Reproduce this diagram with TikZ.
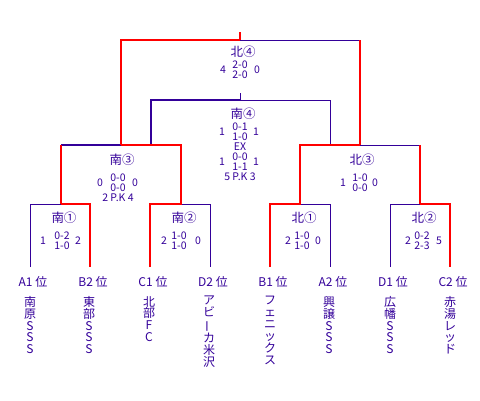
\documentclass[tikz,border=0pt]{standalone}
\usepackage{fontspec}
\newfontfamily\jpfont{Noto Sans CJK JP}
\usepackage{xcolor}
\usepackage{tikz}
\definecolor{tourney}{RGB}{51,0,153}
\newcommand\chouon{\rotatebox[origin=c]{90}{ー}}

\begin{document}
\begin{tikzpicture}
[
	x = 1pt, y = -1pt,
	win/.style	= {draw = red, line width = 2pt},
	lose/.style	= {draw = tourney, line width = 1pt},
	losebold/.style	= {lose, line width = 1.8pt},
	round/.style	= {text = tourney, inner sep = 0pt, font = \jpfont\fontsize{12.5}{12.5}\selectfont},
	score/.style	= {text = tourney, inner sep = 0pt, align = center, font = \jpfont\fontsize{10.5}{10}\selectfont},
	place/.style	= {round, font = \jpfont\fontsize{12}{12}\selectfont},
	team/.style	= {round, anchor = north, align = center, font = \jpfont\fontsize{12}{11.9}\selectfont},
]
	\useasboundingbox (0,0) rectangle (480,400);

	\coordinate (A1) at (30,267);
	\coordinate (B2) at (90,267);
	\coordinate (C1) at (150,267);
	\coordinate (D2) at (210,267);
	\coordinate (B1) at (270,267);
	\coordinate (A2) at (330,267);
	\coordinate (D1) at (390,267);
	\coordinate (C2) at (450,267);
	%
	\coordinate (S1) at (61,204);
	\coordinate (S2) at (181,204);
	\coordinate (N1) at (300,204);
	\coordinate (N2) at (420,204);
	%
	\coordinate (S3) at (121,145);
	\coordinate (N3) at (360,145);
	\coordinate (S4l) at (151,145);
	\coordinate (S4r) at (330,145);
	\coordinate (S4) at (240,100);
	\coordinate (S4top) at (240,93);
	\coordinate (N4) at (240,40);
	\coordinate (champ) at (240,32);

	% losers first
	\draw [lose] (A1) |- (S1);
	\draw [lose] (S2) -| (D2);
	\draw [lose] (N1) -| (A2);
	\draw [lose] (D1) |- (N2);
	%
	\draw [losebold] (S1 |- S3) -- (S3);
	\draw [lose] (N2 |- N3) -- (N3);
	%
	\draw [losebold] (S4l) |- (S4);
	\draw [lose] (S4) -| (S4r);
	\draw [lose] (S4) -- (S4top);
	%
	\draw [lose] (N3 |- N4) -- (N4);

	% winners
	\draw [win] (S1) -| (B2);
	\draw [win] (S1) -- (S1 |- S3);
	\draw [win] (C1) |- (S2) |- (S3);
	\draw [win] (B1) |- (N1) |- (N3);
	\draw [win] (N2) -| (C2);
	\draw [win] (N2) -- (N2 |- N3);
	%
	\draw [win] (S3) |- (N4);
	\draw [win] (N3) -- (N3 |- N4);
	\draw [win] (N4) -- (champ);

	% final
	\node (tN4) [round] at (243,52) {北④};
	\node (sN4) [score] at (240,70) {2-0\\2-0};
	\node (lN4) [score] at (223,70) {4};
	\node (rN4) [score] at (257,70) {0};
	% 3rd place
	\node (tS4) [round] at (243,114) {南④};
	\node (sS4) [score] at (240,152) {0-1\\1-0\\EX\\0-0\\1-1\\5 P.K 3};
	\node (lS4a) [score] at (222,132) {1};
	\node (rS4a) [score] at (256,132) {1};
	\node (lS4b) [score] at (222,162) {1};
	\node (rS4b) [score] at (256,162) {1};
	% semi finals
	\node (tS3) [round] at (122,160) {南③};
	\node (sS3) [score] at (118,188) {0-0\\0-0\\2 P.K 4};
	\node (lS3) [score] at (100,183) {0};
	\node (rS3) [score] at (135,183) {0};
	%
	\node (tN3) [round] at (362,160) {北③};
	\node (sN3) [score] at (360,183) {1-0\\0-0};
	\node (lN3) [score] at (343,183) {1};
	\node (rN3) [score] at (375,183) {0};
	% first round
	\node (tS1) [round] at (64,218) {南①};
	\node (sS1) [score] at (62,241) {0-2\\1-0};
	\node (lS1) [score] at (43,241) {1};
	\node (rS1) [score] at (78,241) {2};
	%
	\node (tS2) [round] at (184,218) {南②};
	\node (sS2) [score] at (179,241) {1-0\\1-0};
	\node (lS2) [score] at (164,241) {2};
	\node (rS2) [score] at (198,241) {0};
	%
	\node (tN1) [round] at (304,218) {北①};
	\node (sN1) [score] at (302,241) {1-0\\1-0};
	\node (lN1) [score] at (288,241) {2};
	\node (rN1) [score] at (318,241) {0};
	%
	\node (tN2) [round] at (424,218) {北②};
	\node (sN2) [score] at (422,241) {0-2\\2-3};
	\node (lN2) [score] at (408,241) {2};
	\node (rN2) [score] at (439,241) {5};

	% places
	\node (pA1) [place] at (33,282) {A1 位};
	\node (pB2) [place] at (93,282) {B2 位};
	\node (pC1) [place] at (153,282) {C1 位};
	\node (pD2) [place] at (213,282) {D2 位};
	\node (pB1) [place] at (273,282) {B1 位};
	\node (pA2) [place] at (333,282) {A2 位};
	\node (pD1) [place] at (393,282) {D1 位};
	\node (pC2) [place] at (453,282) {C2 位};
	%
	\node (nA1) [team] at (30,296) {南\\原\\S\\S\\S};
	\node (nB2) [team] at (89,296) {東\\部\\S\\S\\S};
	\node (nC1) [team] at (149,296) {北\\部\\F\\C};
	\node (nD2) [team] at (209,296) {ア\\ビ\\\chouon\\カ\\米\\沢};
	\node (nB1) [team] at (270,296) {フ\\ェ\\ニ\\ッ\\ク\\ス};
	\node (nA2) [team] at (329,296) {興\\譲\\S\\S\\S};
	\node (nD1) [team] at (390,296) {広\\幡\\S\\S\\S};
	\node (nC2) [team] at (450,296) {赤\\湯\\レ\\ッ\\ド};

\end{tikzpicture}
\end{document}
